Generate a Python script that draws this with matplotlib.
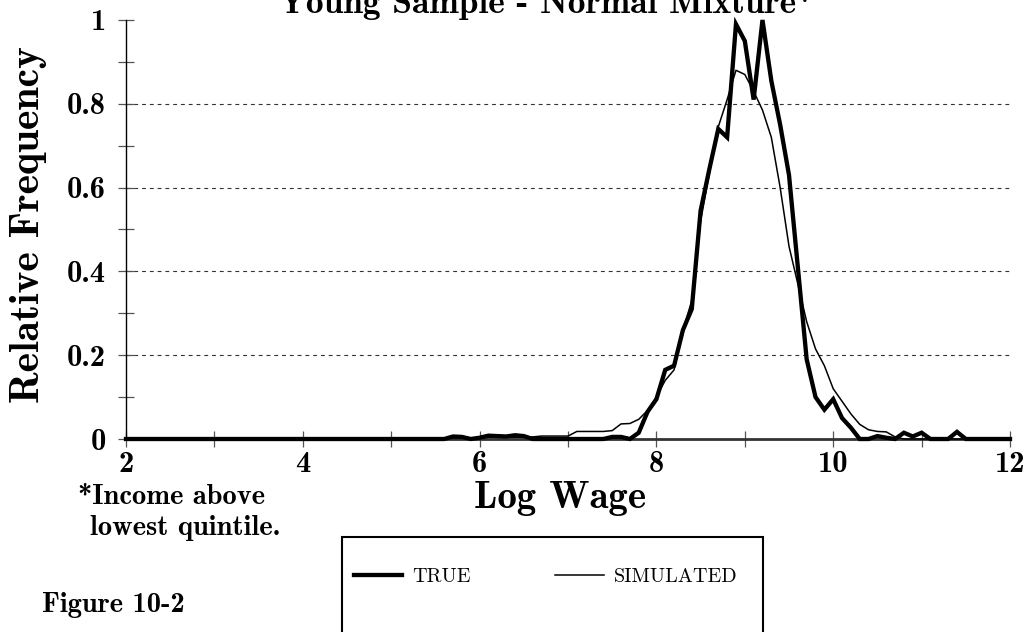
import numpy as np
import matplotlib
matplotlib.use("Agg")
import matplotlib.pyplot as plt
from matplotlib.patches import Rectangle
from matplotlib.ticker import MultipleLocator, FixedLocator, FixedFormatter

# ---------------- data ----------------
log_wage = np.round(np.linspace(2.0, 12.0, 101), 1)   # bin grid, step 0.1

true_freq = [
    # 2.0 - 2.9
    0, 0, 0, 0, 0, 0, 0, 0, 0, 0,
    # 3.0 - 3.9
    0, 0, 0, 0, 0, 0, 0, 0, 0, 0,
    # 4.0 - 4.9
    0, 0, 0, 0, 0, 0, 0, 0, 0, 0,
    # 5.0 - 5.9
    0, 0, 0, 0, 0, 0, 0, 0.006, 0.005, 0,
    # 6.0 - 6.9
    0.003, 0.008, 0.007, 0.006, 0.009, 0.007, 0, 0, 0, 0,
    # 7.0 - 7.9
    0, 0, 0, 0, 0, 0.005, 0.005, 0, 0.015, 0.065,
    # 8.0 - 8.9
    0.095, 0.165, 0.175, 0.26, 0.31, 0.545, 0.645, 0.74, 0.72, 0.99,
    # 9.0 - 9.9
    0.95, 0.81, 1.0, 0.855, 0.75, 0.63, 0.41, 0.19, 0.10, 0.07,
    # 10.0 - 10.9
    0.095, 0.05, 0.027, 0, 0, 0.007, 0.003, 0, 0.015, 0.006,
    # 11.0 - 11.9
    0.015, 0, 0, 0, 0.017, 0, 0, 0, 0, 0,
    # 12.0
    0,
]

sim_freq = [
    # 2.0 - 2.9
    0, 0, 0, 0, 0, 0, 0, 0, 0, 0,
    # 3.0 - 3.9
    0, 0, 0, 0, 0, 0, 0, 0, 0, 0,
    # 4.0 - 4.9
    0, 0, 0, 0, 0, 0, 0, 0, 0, 0,
    # 5.0 - 5.9
    0, 0, 0, 0, 0, 0, 0, 0.003, 0.003, 0.002,
    # 6.0 - 6.9
    0.003, 0.004, 0.004, 0.004, 0.004, 0.004, 0.005, 0.007, 0.007, 0.007,
    # 7.0 - 7.9
    0.007, 0.018, 0.018, 0.018, 0.018, 0.02, 0.036, 0.037, 0.047, 0.068,
    # 8.0 - 8.9
    0.10, 0.14, 0.165, 0.26, 0.33, 0.52, 0.635, 0.745, 0.81, 0.88,
    # 9.0 - 9.9
    0.87, 0.83, 0.785, 0.72, 0.60, 0.46, 0.37, 0.28, 0.215, 0.175,
    # 10.0 - 10.9
    0.12, 0.09, 0.06, 0.035, 0.022, 0.018, 0.017, 0.005, 0, 0,
    # 11.0 - 11.9
    0, 0, 0, 0, 0, 0, 0, 0, 0, 0,
    # 12.0
    0,
]

x_major = [2, 4, 6, 8, 10, 12]
x_tick_labels = ["2", "4", "6", "8", "10", "12"]
y_major = [0, 0.2, 0.4, 0.6, 0.8, 1.0]
y_tick_labels = ["0", "0.2", "0.4", "0.6", "0.8", "1"]
grid_levels = [0.2, 0.4, 0.6, 0.8]

title_text = "Young Sample - Normal Mixture*"
x_label = "Log Wage"
y_label = "Relative Frequency"
footnote_lines = ["*Income above", "lowest quintile."]
figure_tag = "Figure 10-2"
series_names = ["TRUE", "SIMULATED"]

# ---------------- figure ----------------
plt.rcParams["font.family"] = ["cmb10", "DejaVu Serif"]
plt.rcParams["axes.unicode_minus"] = False

W, H = 1026, 632
fig = plt.figure(figsize=(W / 100, H / 100), dpi=100)
ax = fig.add_axes([126 / W, 1 - 439 / H, 884 / W, 419 / H])

for g in grid_levels:
    ax.axhline(g, color="#333333", lw=0.8, ls=(0, (3.5, 3.5)), zorder=1)

line_true, = ax.plot(log_wage, true_freq, color="black", lw=3.1,
                     solid_joinstyle="miter", clip_on=False, zorder=3,
                     label=series_names[0])
line_sim, = ax.plot(log_wage, sim_freq, color="black", lw=1.1,
                    clip_on=False, zorder=4, label=series_names[1])

ax.set_xlim(2, 12)
ax.set_ylim(0, 1)

ax.xaxis.set_major_locator(FixedLocator(x_major))
ax.xaxis.set_major_formatter(FixedFormatter(x_tick_labels))
ax.xaxis.set_minor_locator(MultipleLocator(1))
ax.yaxis.set_major_locator(FixedLocator(y_major))
ax.yaxis.set_major_formatter(FixedFormatter(y_tick_labels))
ax.yaxis.set_minor_locator(MultipleLocator(0.1))

ax.tick_params(axis="both", which="both", direction="inout", length=11,
               width=0.9, color="#555555")
ax.tick_params(axis="x", which="major", labelsize=22, pad=3.5)
ax.tick_params(axis="y", which="major", labelsize=22, pad=9)

for s in ["top", "right"]:
    ax.spines[s].set_visible(False)
ax.spines["left"].set_linewidth(1.0)
ax.spines["left"].set_color("black")
ax.spines["bottom"].set_linewidth(2.0)
ax.spines["bottom"].set_color("#333333")

ax.set_xlabel(x_label, fontsize=28, va="baseline")
ax.xaxis.set_label_coords((560 - 126) / 884, (439 - 508) / 419)
ax.set_ylabel(y_label, fontsize=30, va="center")
ax.yaxis.set_label_coords((29 - 126) / 884, (439 - 225) / 419)

# title (cut off at the top edge as in the reference)
fig.text(546 / W, 1 - 13 / H, title_text, ha="center", va="baseline",
         fontsize=25.5)

# footnote and figure tag
fig.text(78 / W, 1 - 497 / H, footnote_lines[0], ha="left", va="center",
         fontsize=20.5)
fig.text(90 / W, 1 - 528 / H, footnote_lines[1], ha="left", va="center",
         fontsize=20.5)
fig.text(42 / W, 1 - 605 / H, figure_tag, ha="left", va="center",
         fontsize=20.5)

# legend box (runs off the bottom edge)
fig.add_artist(Rectangle((342 / W, -0.1), (763 - 342) / W, (632 - 537) / H + 0.1,
                         transform=fig.transFigure, fill=False,
                         ec="black", lw=1.5))
leg = ax.legend(handles=[line_true, line_sim], labels=series_names, ncol=2,
                frameon=False, loc="center left",
                bbox_to_anchor=(354 / W, 1 - 577 / H),
                bbox_transform=fig.transFigure,
                borderpad=0, borderaxespad=0, handlelength=2.4,
                handletextpad=0.5, columnspacing=4.2,
                prop={"family": ["cmr10", "DejaVu Serif"], "size": 14.5})

fig.savefig("out.png", dpi=100)
